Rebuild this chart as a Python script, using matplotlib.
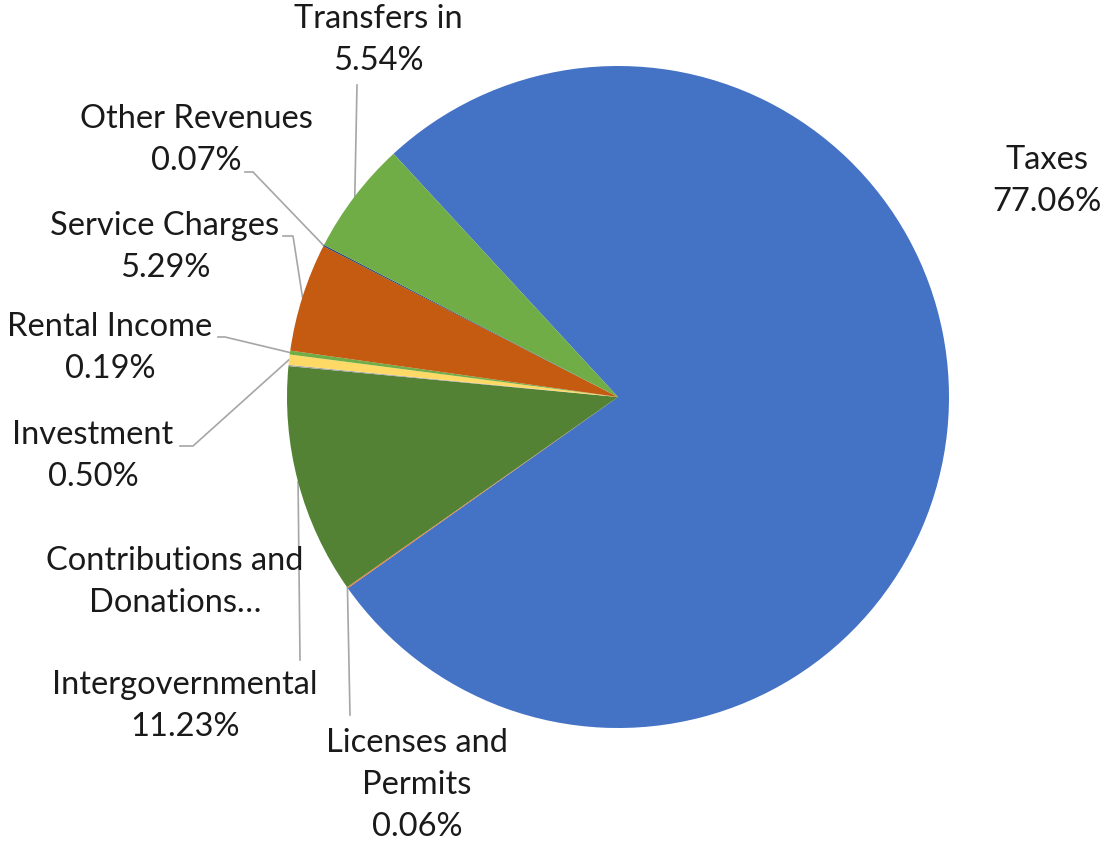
import matplotlib.pyplot as plt
import numpy as np

# dados da pizza
categorias = ['Taxes', 'Licenses and\nPermits', 'Intergovernmental', 'Contributions and\nDonations…',
              'Investment', 'Rental Income', 'Service Charges', 'Other Revenues', 'Transfers in']
valores = [77.06, 0.06, 11.23, 0.06, 0.50, 0.19, 5.29, 0.07, 5.54]
rotulos_pct = ['77.06%', '0.06%', '11.23%', None, '0.50%', '0.19%', '5.29%', '0.07%', '5.54%']
cores = ['#4472C4', '#ED7D31', '#548235', '#A5A5A5', '#FFD966', '#70AD47', '#C55A11', '#264478', '#70AD47']

W, H = 1109, 842
fonte = 'Lato'
tam = 23.5

fig = plt.figure(figsize=(W / 100, H / 100), dpi=100)
ax = fig.add_axes([0, 0, 1, 1])
ax.set_aspect('equal')
ax.axis('off')

cx, cy, r = 618, H - 397, 331
wedges, _ = ax.pie(valores, colors=cores, startangle=132.7, counterclock=False,
                   center=(cx, cy), radius=r, wedgeprops=dict(linewidth=0))
ax.set_xlim(0, W)
ax.set_ylim(0, H)

# posicao dos rotulos (pixels, topo-esquerda) e cotovelo da linha guia
pos_rotulo = [(1047, 181), (417, 785), (185, 706), (175, 582),
              (93, 456), (110, 348), (165, 247), (196, 140), (378, 40)]
cotovelo = [None, (350, 715), (300, 660), None,
            (193, 446), (225, 337), (293, 236), (253, 172), (357, 85)]
inicio = [None, None, None, None,
          (180, 446), (218, 337), (283, 236), (245, 172), None]

for i, w in enumerate(wedges):
    txt = categorias[i] if rotulos_pct[i] is None else categorias[i] + '\n' + rotulos_pct[i]
    x, y = pos_rotulo[i]
    ax.text(x, H - y, txt, ha='center', va='center', fontsize=tam, family=fonte,
            color='#1a1a1a', linespacing=1.5)
    if cotovelo[i] is None:
        continue
    ang = np.deg2rad((w.theta1 + w.theta2) / 2)
    px, py = cx + r * np.cos(ang), cy + r * np.sin(ang)
    xs, ys = [], []
    if inicio[i] is not None:
        xs.append(inicio[i][0]); ys.append(H - inicio[i][1])
    xs.append(cotovelo[i][0]); ys.append(H - cotovelo[i][1])
    xs.append(px); ys.append(py)
    ax.plot(xs, ys, color='#A6A6A6', linewidth=1.2, zorder=0)

fig.savefig('out.png', dpi=100)
